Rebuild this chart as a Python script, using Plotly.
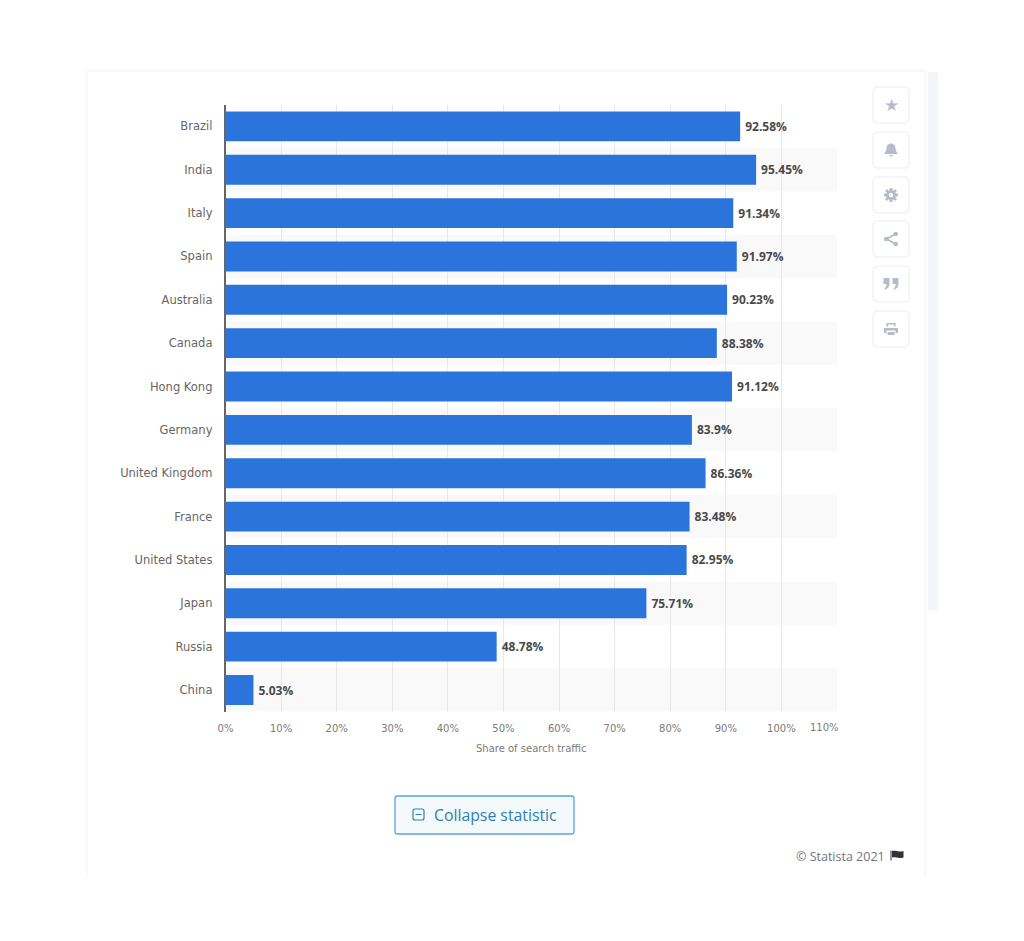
import plotly.graph_objs as go

countries = ["Brazil", "India", "Italy", "Spain", "Australia", "Canada", "Hong Kong", "Germany",
             "United Kingdom", "France", "United States", "Japan", "Russia", "China"]
share = [92.58, 95.45, 91.34, 91.97, 90.23, 88.38, 91.12, 83.9, 86.36, 83.48, 82.95, 75.71, 48.78, 5.03]
W = 1008  # page has a margin of 8 px on each side
H = 925
px = lambda v: (v - 8) / W
py = lambda v: 1 - (v - 8) / H
icon = "#b4bcc9"
blue = "#2f7fb3"

trace = go.Bar(x=share, y=countries,
               orientation="h",
               marker={'color': "#2a74dc", 'line': {'width': 0}},
               text=["\u2009" + str(v) + "%" for v in share],
               textposition="outside",
               cliponaxis=False,
               textfont=dict(family="Open Sans", size=12, color="#4a4a4a", weight="bold"),
               name="Share of search traffic")

shapes = []
# card, with its faint shadow
shapes.append(dict(type="rect", xref="paper", yref="paper", x0=px(924), x1=px(938), y0=py(610), y1=py(72),
                   fillcolor="#f3f5f9", line={'width': 0}, layer="below"))
for grow, col in [(4, "#fcfdfd"), (2, "#f9fafb"), (1, "#f6f8fa")]:
    shapes.append(dict(type="rect", xref="paper", yref="paper", x0=px(88-grow), x1=px(924+grow),
                       y0=py(875), y1=py(72-grow), fillcolor=col, line={'width': 0}, layer="below"))
shapes.append(dict(type="rect", xref="paper", yref="paper", x0=px(88), x1=px(924), y0=py(875), y1=py(72),
                   fillcolor="white", line={'width': 0}, layer="below"))
# every second row is shaded
for c in countries[1::2]:
    shapes.append(dict(type="rect", xref="paper", yref="y", x0=px(225.5), x1=px(837), y0=c, y1=c,
                       y0shift=-0.5, y1shift=0.5, fillcolor="#f9f9f9", line={'width': 0}, layer="below"))

# side buttons, their icons are drawn in pixels around the middle of the button
rounded = "M-13,18 L13,18 Q18,18 18,13 L18,-13 Q18,-18 13,-18 L-13,-18 Q-18,-18 -18,-13 L-18,13 Q-18,18 -13,18 Z"
mids = [105, 150, 195, 239, 284, 329]
for mid in mids:
    shapes.append(dict(type="path", xref="paper", yref="paper", xsizemode="pixel", ysizemode="pixel",
                       xanchor=px(891), yanchor=py(mid), path=rounded, fillcolor="white",
                       line={'color': "#f2f3f6", 'width': 1.5}))
paths = [
    (150, "M-7,-4 C-5,-2 -4.5,1 -4.5,2 C-4.5,5 -2,6.5 0,6.5 C2,6.5 4.5,5 4.5,2 C4.5,1 5,-2 7,-4 Z M-2,-5 L2,-5 L0,-7 Z"),
    (284, "M-7.5,6 L-1.5,6 L-1.5,0 C-1.5,-3 -3.5,-5 -6.5,-6 L-5.5,-3 C-4.5,-3 -4.5,-1 -4.5,0 L-7.5,0 Z "
          "M1.5,6 L7.5,6 L7.5,0 C7.5,-3 5.5,-5 2.5,-6 L3.5,-3 C4.5,-3 4.5,-1 4.5,0 L1.5,0 Z"),
    (329, "M-7,1 L7,1 L7,-4 L4.5,-4 L4.5,-1.5 L-4.5,-1.5 L-4.5,-4 L-7,-4 Z M-3.5,-3 L3.5,-3 L3.5,-6 L-3.5,-6 Z "
          "M-4.5,6 L4.5,6 L4.5,2.5 L3,2.5 L3,4.5 L-3,4.5 L-3,2.5 L-4.5,2.5 Z"),
    (239, "M-7,0 C-7,3 -2.4,3 -2.4,0 C-2.4,-3 -7,-3 -7,0 Z "
          "M2.4,5 C2.4,8 7,8 7,5 C7,2 2.4,2 2.4,5 Z "
          "M2.4,-5 C2.4,-2 7,-2 7,-5 C7,-8 2.4,-8 2.4,-5 Z"),
    (239, "M-4.7,1 L4.7,6 L4.7,4 L-4.7,-1 Z"),
    (239, "M-4.7,-1 L4.7,-6 L4.7,-4 L-4.7,1 Z"),
    # gear: four bars make the teeth, then the hub on top
    (195, "M-1.5,7 L1.5,7 L1.5,-7 L-1.5,-7 Z"),
    (195, "M-7,-1.5 L-7,1.5 L7,1.5 L7,-1.5 Z"),
    (195, "M-6,-4 L-4,-6 L6,4 L4,6 Z"),
    (195, "M-6,4 L-4,6 L6,-4 L4,-6 Z"),
    (195, "M-4.8,0 C-4.8,6.4 4.8,6.4 4.8,0 C4.8,-6.4 -4.8,-6.4 -4.8,0 Z"),
]
for mid, path in paths:
    shapes.append(dict(type="path", xref="paper", yref="paper", xsizemode="pixel", ysizemode="pixel",
                       xanchor=px(891), yanchor=py(mid), path=path, fillcolor=icon, line={'width': 0}))
shapes.append(dict(type="path", xref="paper", yref="paper", xsizemode="pixel", ysizemode="pixel",
                   xanchor=px(891), yanchor=py(195), fillcolor="white", line={'width': 0},
                   path="M-2.2,0 C-2.2,3 2.2,3 2.2,0 C2.2,-3 -2.2,-3 -2.2,0 Z"))

# collapse button
shapes.append(dict(type="path", xref="paper", yref="paper", xsizemode="pixel", ysizemode="pixel",
                   xanchor=px(484.5), yanchor=py(815), fillcolor="#f4f9fc",
                   line={'color': "#5fa6cf", 'width': 1.3},
                   path="M-87,19 L87,19 Q89.5,19 89.5,16.5 L89.5,-16.5 Q89.5,-19 87,-19 L-87,-19 "
                        "Q-89.5,-19 -89.5,-16.5 L-89.5,16.5 Q-89.5,19 -87,19 Z"))
shapes.append(dict(type="path", xref="paper", yref="paper", xsizemode="pixel", ysizemode="pixel",
                   xanchor=px(418.5), yanchor=py(814.5), line={'color': blue, 'width': 1.2},
                   path="M-3.5,5.5 L3.5,5.5 Q5.5,5.5 5.5,3.5 L5.5,-3.5 Q5.5,-5.5 3.5,-5.5 L-3.5,-5.5 "
                        "Q-5.5,-5.5 -5.5,-3.5 L-5.5,3.5 Q-5.5,5.5 -3.5,5.5 Z M-3,0 L3,0"))
# flag next to the copyright
shapes.append(dict(type="path", xref="paper", yref="paper", xsizemode="pixel", ysizemode="pixel",
                   xanchor=px(897), yanchor=py(855.5), fillcolor="#333333", line={'width': 0},
                   path="M-6.5,5 L-5.5,5 L-5.5,-5 L-6.5,-5 Z M-5,4.5 C-2,5.5 1,3 6.5,4.5 L6.5,-2 C1,-3.5 -2,-1 -5,-2 Z"))

annotations = [
    dict(text="110%", xref="paper", yref="paper", x=px(841), y=py(727), xanchor="right", yanchor="middle",
         showarrow=False, font=dict(family="DejaVu Sans", size=10, color="#7b7b7b")),
    dict(text="Collapse statistic", xref="paper", yref="paper", x=px(432), y=py(814.5), xanchor="left",
         yanchor="middle", showarrow=False, font=dict(family="Open Sans", size=15.8, color=blue)),
    dict(text="© Statista 2021", xref="paper", yref="paper", x=px(887), y=py(856), xanchor="right",
         yanchor="middle", showarrow=False, font=dict(family="Open Sans", size=12.5, color="#6f7680")),
    dict(text="★", xref="paper", yref="paper", x=px(891), y=py(105), showarrow=False, xanchor="center",
         yanchor="middle", font=dict(family="DejaVu Sans", size=17, color=icon)),
]

layout = go.Layout(width=W, height=H,
                   margin=dict(l=0, r=0, t=0, b=0),
                   paper_bgcolor="white",
                   plot_bgcolor="rgba(0,0,0,0)",
                   bargap=0.31,
                   showlegend=False,
                   shapes=shapes,
                   annotations=annotations,
                   xaxis=dict(domain=[px(225.5), px(837)], range=[0, 110], automargin=False,
                              tickvals=list(range(0, 101, 10)) + [110],
                              ticktext=[str(t) + "%" for t in range(0, 101, 10)] + [" "],
                              gridcolor="#e8e8e8", gridwidth=1, zeroline=False,
                              ticks="outside", ticklen=7, tickcolor="rgba(0,0,0,0)",
                              tickfont=dict(family="DejaVu Sans", size=10, color="#7b7b7b"),
                              title=dict(text="Share of search traffic", standoff=12,
                                         font=dict(family="DejaVu Sans", size=10, color="#7b7b7b"))),
                   yaxis=dict(domain=[py(711.7), py(104.7)], autorange="reversed", automargin=False,
                              showline=True, linecolor="#666666", linewidth=1.5,
                              ticks="outside", ticklen=9, tickcolor="rgba(0,0,0,0)",
                              tickfont=dict(family="DejaVu Sans", size=11.5, color="#666666")))
fig = go.Figure(data=[trace], layout=layout)
fig.write_html("out.html")
